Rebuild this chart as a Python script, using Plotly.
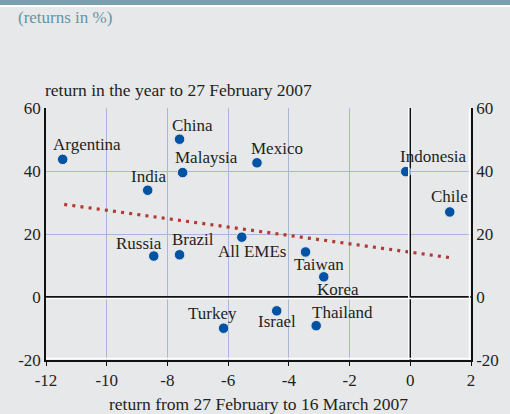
import plotly.graph_objects as go

# equity returns, emerging markets (%)
countries = ["Argentina", "China", "Malaysia", "Mexico", "India", "Russia", "Brazil",
             "All EMEs", "Indonesia", "Chile", "Taiwan", "Korea", "Turkey", "Israel", "Thailand"]
ret_after = [-11.45, -7.6, -7.5, -5.05, -8.65, -8.45, -7.6,
             -5.55, -0.15, 1.3, -3.45, -2.85, -6.15, -4.4, -3.1]
ret_year = [43.7, 50.1, 39.5, 42.6, 33.9, 13.0, 13.4,
            19.0, 39.8, 27.0, 14.3, 6.4, -9.9, -4.4, -9.1]

# fitted line
trend_x = [-11.4, 1.3]
trend_y = [29.4, 12.5]

x_ticks = [-12, -10, -8, -6, -4, -2, 0, 2]
y_ticks = [-20, 0, 20, 40, 60]

# label offsets in pixels (dx, dy) from each dot
label_offsets = {
    "Argentina": (24, 15), "China": (13, 14), "Malaysia": (24, 15), "Mexico": (20, 14),
    "India": (1, 14), "Russia": (-15, 13), "Brazil": (13, 15), "All EMEs": (10, -14),
    "Indonesia": (28, 15), "Chile": (0, 15), "Taiwan": (13, -13), "Korea": (14, -13),
    "Turkey": (-11, 15), "Israel": (0, -11), "Thailand": (26, 13),
}

W, H = 510, 414
L, R, T, B = 46, 39, 108, 54
ph = H - T - B
pw = W - L - R
bg = "#e7e8ea"
grid = "#a9b6dc"
serif = "Liberation Serif, Times New Roman, serif"
fs = 17

fig = go.Figure()

fig.add_trace(go.Scatter(
    x=trend_x, y=trend_y, mode="lines",
    line=dict(color="#b23a30", width=3.2, dash="3px,5.2px"),
    hoverinfo="skip", showlegend=False,
))
fig.add_trace(go.Scatter(
    x=ret_after, y=ret_year, mode="markers",
    marker=dict(color="#0052a3", size=10.5, line=dict(color="#e7e8ea", width=1)),
    text=countries, showlegend=False,
))
# dummy trace for the right-hand axis
fig.add_trace(go.Scatter(x=[None], y=[None], yaxis="y2", showlegend=False))

for name, xv, yv in zip(countries, ret_after, ret_year):
    dx, dy = label_offsets[name]
    fig.add_annotation(x=xv, y=yv, text=name, showarrow=False,
                       xshift=dx, yshift=dy, font=dict(family=serif, size=fs, color="#231f20"))

# white highlights next to the black axis lines
white = dict(color="white", width=1.5)
fig.add_shape(type="line", xref="x", yref="paper", xsizemode="pixel", xanchor=2,
              x0=-1.5, x1=-1.5, y0=0, y1=1, line=white)
fig.add_shape(type="line", xref="x", yref="paper", xsizemode="pixel", xanchor=0,
              x0=-1.5, x1=-1.5, y0=0, y1=1, line=white)
fig.add_shape(type="line", xref="paper", yref="y", ysizemode="pixel", yanchor=-20,
              y0=1.5, y1=1.5, x0=0, x1=1, line=white)
fig.add_shape(type="line", xref="paper", yref="y", ysizemode="pixel", yanchor=0,
              y0=-1.5, y1=-1.5, x0=0, x1=1, line=white)

# header band with a white rule underneath
fig.add_shape(type="rect", xref="paper", yref="paper", layer="above",
              x0=-L / pw, x1=1 + R / pw, y0=1 + (T - 7) / ph, y1=1 + (T - 5) / ph,
              fillcolor="white", line_width=0)
fig.add_shape(type="rect", xref="paper", yref="paper", layer="above",
              x0=-L / pw, x1=1 + R / pw, y0=1 + (T - 5) / ph, y1=1 + (T + 10) / ph,
              fillcolor="#7a9fb0", line_width=0)

fig.add_annotation(xref="paper", yref="paper", x=(16 - L) / pw, y=1 + (T - 18) / ph,
                   xanchor="left", yanchor="middle", showarrow=False,
                   text="(returns in %)", font=dict(family=serif, size=fs, color="#5f97a7"))
fig.add_annotation(xref="paper", yref="paper", x=(43 - L) / pw, y=1 + (T - 90) / ph,
                   xanchor="left", yanchor="middle", showarrow=False,
                   text="return in the year to 27 February 2007",
                   font=dict(family=serif, size=fs + 0.5, color="#231f20"))
fig.add_annotation(xref="paper", yref="paper", x=0.5, y=-(404 - (H - B)) / ph,
                   xanchor="center", yanchor="middle", showarrow=False,
                   text="return from 27 February to 16 March 2007",
                   font=dict(family=serif, size=fs + 0.5, color="#231f20"))

fig.update_layout(
    width=W, height=H,
    margin=dict(l=L, r=R, t=T, b=B),
    paper_bgcolor=bg, plot_bgcolor=bg,
    font=dict(family=serif, size=fs, color="#231f20"),
    xaxis=dict(range=[-12, 2], tickvals=x_ticks, ticktext=[str(v) for v in x_ticks],
               showgrid=True, gridcolor=grid, gridwidth=1,
               zeroline=True, zerolinecolor="#111", zerolinewidth=1.5,
               showline=True, linecolor="#111", linewidth=1.5,
               ticks="outside", ticklen=4, tickcolor="#111", fixedrange=True),
    yaxis=dict(range=[-20, 60], tickvals=y_ticks, ticktext=[str(v) for v in y_ticks],
               showgrid=True, gridcolor=grid, gridwidth=1,
               zeroline=True, zerolinecolor="#111", zerolinewidth=1.5,
               showline=True, linecolor="#111", linewidth=1.5, ticks="", fixedrange=True),
    yaxis2=dict(range=[-20, 60], tickvals=y_ticks, ticktext=[str(v) for v in y_ticks],
                overlaying="y", side="right", showgrid=False, zeroline=False,
                showline=True, linecolor="#111", linewidth=1.5, ticks="", fixedrange=True),
)

# page body margin off so the figure sits at the window's corner
fig.write_html("out.html", config={"displayModeBar": False},
               post_script="document.body.style.margin='0';")
